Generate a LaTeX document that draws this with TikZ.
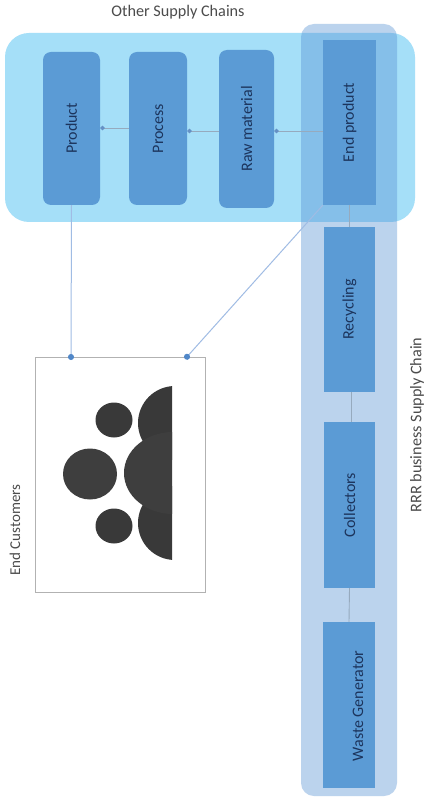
\documentclass[tikz,border=0pt]{standalone}
\usepackage{fontspec}
\usepackage{graphicx}
\setmainfont{Carlito}
\usetikzlibrary{arrows.meta}
\definecolor{outerblue}{RGB}{165,223,248}
\definecolor{bandblue}{RGB}{85,145,212}
\definecolor{boxblue}{RGB}{91,155,213}
\definecolor{boxtext}{RGB}{28,52,92}
\definecolor{linkblue}{RGB}{160,188,228}
\definecolor{linkgrey}{RGB}{150,170,190}
\definecolor{tipblue}{RGB}{80,135,200}
\definecolor{darkfig}{RGB}{62,62,62}
\newcommand{\vtext}[1]{\rotatebox{90}{#1}}
\tikzset{
  x=1pt,y=-1pt,
  stepbox/.style={fill=boxblue,inner sep=0pt,text=boxtext,font=\fontsize{16}{17}\selectfont,anchor=center},
  roundbox/.style={stepbox,rounded corners=8pt},
  caption/.style={text=black!70,font=\fontsize{16.2}{17}\selectfont,inner sep=0pt},
  flow/.style={draw=linkgrey,line width=.8pt,-{Circle[length=4.5pt,color=tipblue!70!linkgrey]}},
  plain/.style={draw=linkgrey,line width=.9pt},
  custlink/.style={draw=linkblue,line width=1pt,-{Circle[length=6pt,color=tipblue]}},
}
\begin{document}
\begin{tikzpicture}
\useasboundingbox (0,0) rectangle (426,802);
\fill[white] (0,0) rectangle (426,802);
\node[fill=outerblue,rounded corners=24pt,minimum width=410pt,minimum height=189pt,inner sep=0pt] (other) at (210,127.5) {};
\node[fill=bandblue,fill opacity=.4,rounded corners=13pt,minimum width=96pt,minimum height=772pt,inner sep=0pt] (rrr) at (349,410) {};
\node[roundbox,minimum width=57pt,minimum height=153pt] (product) at (71.5,128.5) {\vtext{Product}};
\node[roundbox,minimum width=58pt,minimum height=153pt] (process) at (158,128.5) {\vtext{Process}};
\node[roundbox,minimum width=55pt,minimum height=158pt] (raw) at (246.5,129) {\vtext{Raw material}};
\node[stepbox,minimum width=53pt,minimum height=165pt] (endp) at (349.5,122.5) {\vtext{End product}};
\node[stepbox,minimum width=51pt,minimum height=165pt] (recycling) at (349.5,309.5) {\vtext{Recycling}};
\node[stepbox,minimum width=51pt,minimum height=166pt] (collectors) at (349.5,505) {\vtext{Collectors}};
\node[stepbox,minimum width=52pt,minimum height=166pt] (waste) at (349,705) {};
\node[text=boxtext,font=\fontsize{16}{17}\selectfont,inner sep=0pt] (wastetext) at (358,706) {\vtext{Waste Generator}};
\node[draw=black!30,line width=.9pt,fill=white,minimum width=170pt,minimum height=235pt,inner sep=0pt] (cust) at (120,474.5) {};
\begin{scope}
\clip (120,370) rectangle (172,580);
\fill[darkfig!92!black] (175,423) circle[radius=37];
\fill[darkfig!92!black] (175,523) circle[radius=37];
\fill[darkfig] (173,473) ellipse[x radius=49,y radius=41];
\end{scope}
\fill[darkfig!92!black] (114,420) ellipse[x radius=18.5,y radius=17.5];
\fill[darkfig!92!black] (114,526) ellipse[x radius=18.5,y radius=17.5];
\fill[darkfig] (90,474) ellipse[x radius=27,y radius=25.5];
\coordinate (rowa) at (0,131);
\coordinate (rowb) at (0,128);
\coordinate (custa) at (71,360);
\coordinate (custb) at (185,359);
\draw[flow] (endp.west |- rowa) -- (raw.east |- rowa);
\draw[flow] (raw.west |- rowa) -- (process.east |- rowa);
\draw[flow] (process.west |- rowb) -- (product.east |- rowb);
\draw[plain] (endp.south) -- (recycling.north);
\draw[plain] ([xshift=2pt]recycling.south) -- ([xshift=2pt]collectors.north);
\draw[plain] (collectors.south) -- (waste.north);
\draw[custlink] (product.south) -- (custa);
\draw[custlink] (endp.south west) -- (custb);
\node[caption] (othercap) at (178,12) {Other Supply Chains};
\node[caption,font=\fontsize{15}{16}\selectfont] (custcap) at (15,530) {\vtext{End Customers}};
\node[caption] (rrrcap) at (417,425) {\vtext{RRR business Supply Chain}};
\end{tikzpicture}
\end{document}
